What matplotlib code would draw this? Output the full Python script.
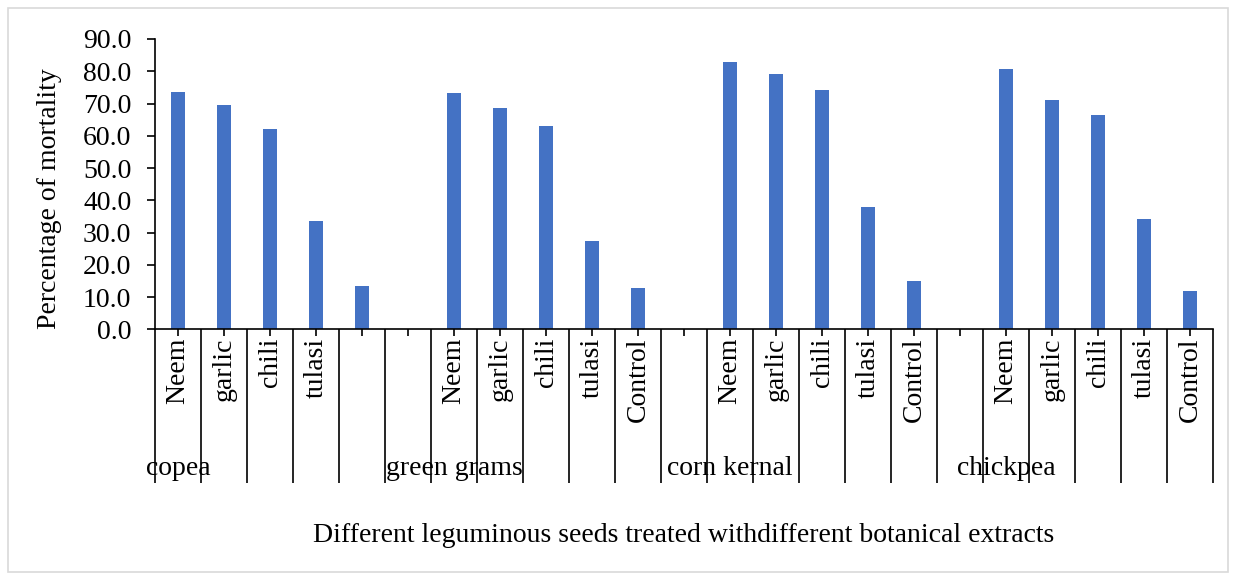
"""
Mortality (%) of insects on leguminous seeds treated with botanical extracts
"""

import numpy as np
import matplotlib.pyplot as plt
from matplotlib.patches import Rectangle

# Data
groups = ['copea', 'green grams', 'corn kernal', 'chickpea']
treatments = ['Neem', 'garlic', 'chili', 'tulasi', 'Control']
copea = [73.7, 69.6, 62.2, 33.6, 13.5]
green_grams = [73.2, 68.6, 63.0, 27.4, 12.8]
corn_kernal = [82.8, 79.0, 74.1, 37.8, 14.9]
chickpea = [80.8, 71.1, 66.3, 34.3, 11.8]
# copea's Control label is left blank in the original
labels_per_group = [
    ['Neem', 'garlic', 'chili', 'tulasi', ''],
    treatments, treatments, treatments,
]
yticks = np.arange(0, 91, 10)

series = [copea, green_grams, corn_kernal, chickpea]

# Build the category slots: 5 treatments + one empty slot per group
# (the last group has no trailing empty slot)
values, tick_labels, group_pos = [], [], []
for g, (vals, labs) in enumerate(zip(series, labels_per_group)):
    group_pos.append(len(values))
    values += vals
    tick_labels += labs
    if g < len(series) - 1:
        values.append(np.nan)
        tick_labels.append('')

n = len(values)
x = np.arange(n)

plt.rcParams['font.family'] = ['Liberation Serif', 'DejaVu Serif']
fs = 20

fig = plt.figure(figsize=(12.36, 5.8), dpi=100)
ax = fig.add_axes([155 / 1236, 1 - 329.3 / 580, 1058 / 1236, 290.3 / 580])

# light frame around the chart area
fig.patches.append(Rectangle((8 / 1236, 8 / 580), 1220 / 1236, 564 / 580,
                             transform=fig.transFigure, fill=False,
                             edgecolor='#d9d9d9', linewidth=1.2))

ax.bar(x, values, width=0.31, color='#4472C4', edgecolor='none')

ax.set_xlim(-0.5, n - 0.5)
ax.set_ylim(0, 90)
ax.set_yticks(yticks)
ax.set_yticklabels([f'{v:.1f}' for v in yticks], fontsize=fs)
ax.tick_params(axis='y', direction='out', length=6, width=1.2, pad=11)

# long separators between categories, short ticks at category centres
ax.set_xticks(np.arange(-0.5, n, 1.0))
ax.set_xticklabels([])
ax.tick_params(axis='x', which='major', direction='out', length=111,
               width=1.2)
ax.set_xticks(x, minor=True)
ax.set_xticklabels(tick_labels, minor=True, rotation=90, fontsize=fs,
                   va='top', ha='center')
ax.tick_params(axis='x', which='minor', direction='out', length=5,
               width=1.2, pad=1)

for side in ['top', 'right']:
    ax.spines[side].set_visible(False)
for side in ['left', 'bottom']:
    ax.spines[side].set_linewidth(1.2)

# outer level labels, centred on the first slot of each group
for name, pos in zip(groups, group_pos):
    ax.text(pos, -0.478, name, transform=ax.get_xaxis_transform(),
            ha='center', va='center', fontsize=fs)

ax.set_ylabel('Percentage of mortality', fontsize=fs)
ax.yaxis.set_label_coords(-0.088, 0.45)
ax.set_xlabel('Different leguminous seeds treated withdifferent botanical extracts',
              fontsize=fs, va='center')
ax.xaxis.set_label_coords(0.5, -0.709)

fig.savefig('out.png', dpi=100)
